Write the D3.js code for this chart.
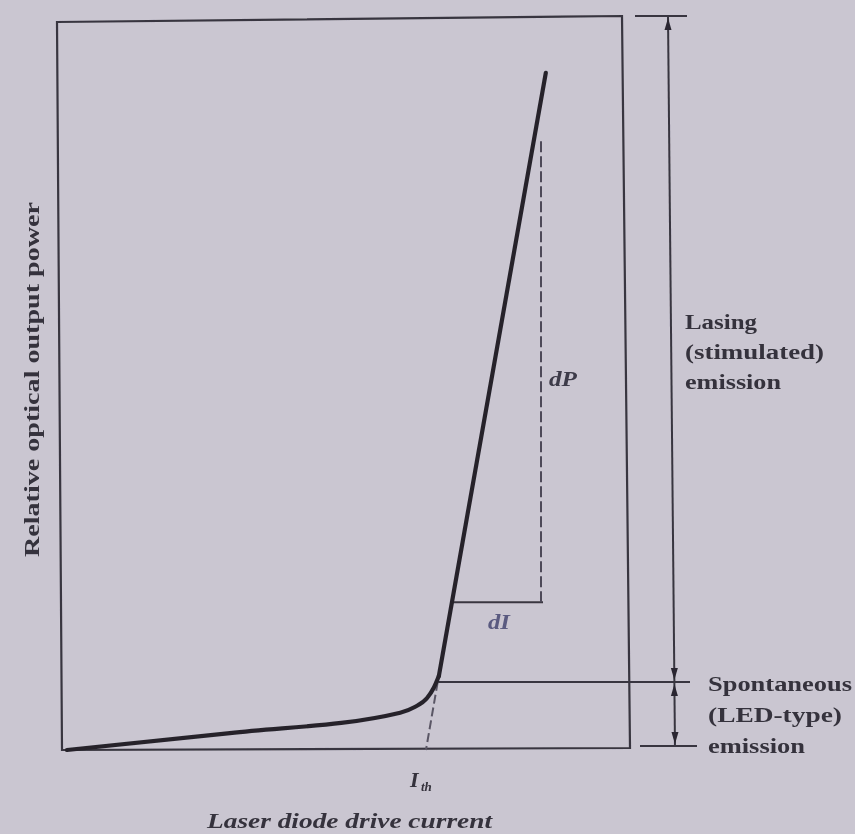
<!DOCTYPE html>
<html><head><meta charset="utf-8">
<script src="https://cdn.jsdelivr.net/npm/d3@7"></script>
<style>html,body{margin:0;padding:0;background:#cac6d1;}svg{display:block;}</style>
</head><body>
<script>
// ---- data (arbitrary units) ----
// spontaneous (LED-like) region up to the knee
const spontCurrent = [0, 29.1, 59.5, 62.1, 64.3, 65.5, 66.4];
const spontPower   = [0, 2.3, 5.1, 5.87, 7.1, 8.5, 10.1];
// lasing region (straight line above threshold)
const lasingCurrent = [66.4, 85.5];
const lasingPower   = [10.1, 92.5];
const thresholdCurrent = 64.1;     // I_th (extrapolated lasing line meets axis)
const kneeCurrent = 66.2, kneePower = 9.3;   // boundary spontaneous / lasing
const triangle = {i0: 68.75, i1: 85.0, p0: 20.2, p1: 83.3};        // dI / dP construction
const topPower = 100.4, bottomPower = 0;
const lasingLabel = ["Lasing", "(stimulated)", "emission"];
const spontLabel = ["Spontaneous", "(LED-type)", "emission"];
const xTitle = "Laser diode drive current";
const yTitle = "Relative optical output power";

const W = 855, H = 834;
const x = d3.scaleLinear().domain([0, 100]).range([67, 627]);
const y = d3.scaleLinear().domain([0, 100]).range([750, 18]);

const svg = d3.select("body").append("svg").attr("width", W).attr("height", H);
const defs = svg.append("defs");
defs.append("filter").attr("id", "blur").append("feGaussianBlur").attr("stdDeviation", 0.7);
const g = svg.append("g").attr("filter", "url(#blur)");
const ink = "#38363f";

// frame (photographed slightly skewed)
g.append("path").attr("d", "M57,22 L622,16 L630,748 L62,750 Z")
  .attr("fill", "none").attr("stroke", ink).attr("stroke-width", 2.2);

// threshold horizontal line to bracket
g.append("line").attr("x1", x(kneeCurrent)).attr("x2", 690).attr("y1", y(kneePower)).attr("y2", y(kneePower))
  .attr("stroke", ink).attr("stroke-width", 2);
// dashed extrapolation to I_th
g.append("line").attr("x1", x(kneeCurrent)).attr("y1", y(kneePower)).attr("x2", x(thresholdCurrent)).attr("y2", y(bottomPower))
  .attr("stroke", "#5a5665").attr("stroke-width", 2).attr("stroke-dasharray", "9,4");

// triangle dI (solid) and dP (dashed)
g.append("line").attr("x1", x(triangle.i0)).attr("x2", x(triangle.i1)).attr("y1", y(triangle.p0)).attr("y2", y(triangle.p0))
  .attr("stroke", ink).attr("stroke-width", 2);
g.append("line").attr("x1", x(triangle.i1) - 2).attr("x2", x(triangle.i1) - 2).attr("y1", y(triangle.p0)).attr("y2", y(triangle.p1))
  .attr("stroke", "#4e4a58").attr("stroke-width", 2).attr("stroke-dasharray", "11,4");

// L-I curve: smooth knee + straight lasing line
const curveStyle = p => p.attr("fill", "none").attr("stroke", "#26242c").attr("stroke-width", 4.2)
  .attr("stroke-linecap", "round").attr("stroke-linejoin", "round");
const spontLine = d3.line().x((d, i) => x(spontCurrent[i])).y(d => y(d)).curve(d3.curveMonotoneX);
g.append("path").datum(spontPower).attr("d", spontLine).call(curveStyle);
const lasLine = d3.line().x((d, i) => x(lasingCurrent[i])).y(d => y(d));
g.append("path").datum(lasingPower).attr("d", lasLine).call(curveStyle);

// bracket on the right
const bx0 = 668, bx1 = 675;
const bxAt = yy => bx0 + (bx1 - bx0) * (yy - 16) / (747 - 16);
g.append("line").attr("x1", bx0).attr("y1", y(topPower) + 1).attr("x2", bx1).attr("y2", 747)
  .attr("stroke", ink).attr("stroke-width", 2);
g.append("line").attr("x1", 635).attr("x2", 687).attr("y1", 16).attr("y2", 16).attr("stroke", ink).attr("stroke-width", 2);
g.append("line").attr("x1", 640).attr("x2", 697).attr("y1", 746).attr("y2", 746).attr("stroke", ink).attr("stroke-width", 2);
function arrow(yTip, dir) { // dir -1 points up, +1 points down
  const xx = bxAt(yTip);
  g.append("path").attr("d", `M${xx},${yTip} L${xx - 3.5},${yTip - dir * 12} L${xx + 3.5},${yTip - dir * 12} Z`).attr("fill", "#2a2830");
}
arrow(18, -1); arrow(y(kneePower) - 2, 1); arrow(y(kneePower) + 2, -1); arrow(744, 1);

// texts
const tf = "'Liberation Serif','DejaVu Serif',serif";
const txt = (s, tx, ty, size, len, opts = {}) => {
  const t = g.append("text").attr("x", tx).attr("y", ty).text(s)
    .attr("font-family", tf).attr("font-size", size).attr("font-weight", "bold")
    .attr("fill", opts.fill || "#35333c").attr("font-style", opts.italic ? "italic" : "normal");
  if (len) t.attr("textLength", len).attr("lengthAdjust", "spacingAndGlyphs");
  if (opts.rotate) t.attr("transform", `rotate(-90,${tx},${ty})`);
  return t;
};
const lasW = [72, 139, 96];
lasingLabel.forEach((s, i) => txt(s, 685, 329 + i * 30, 20, lasW[i]));
const spW = [144, 134, 97];
spontLabel.forEach((s, i) => txt(s, 708, 691 + i * 31, 20, spW[i]));
txt(xTitle, 207, 828, 21, 285, {italic: true});
txt(yTitle, 39, 557, 20, 355, {rotate: true});
// I_th
txt("I", 410, 787, 22, null, {italic: true});
g.append("text").attr("x", 421).attr("y", 791).text("th").attr("font-family", tf).attr("font-size", 13)
  .attr("font-weight", "bold").attr("font-style", "italic").attr("fill", "#35333c");
txt("dP", 549, 386, 20, 28, {italic: true, fill: "#3c3a48"});
txt("dI", 488, 629, 20, 22, {italic: true, fill: "#5a5a80"});
</script>
</body></html>
